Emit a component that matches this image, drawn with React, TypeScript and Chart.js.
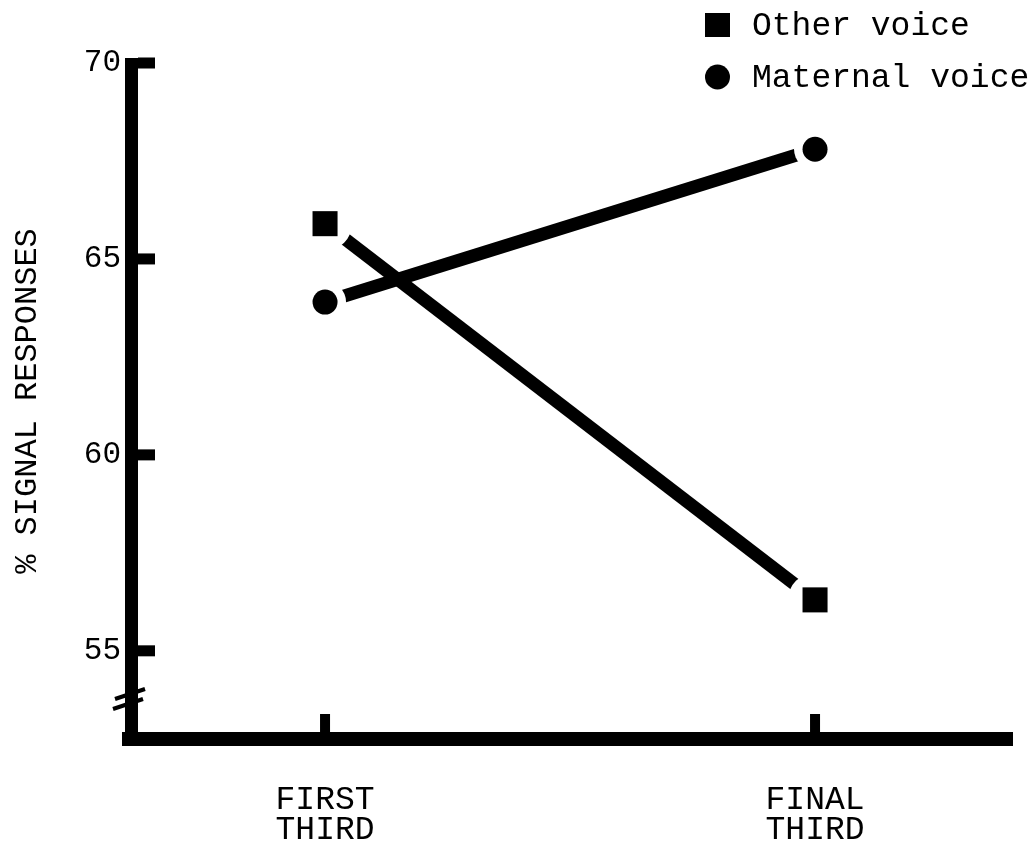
import React, { useEffect, useRef } from "react";
import { Chart, registerables } from "chart.js";

Chart.register(...registerables);

const periods = ["FIRST THIRD", "FINAL THIRD"];
const seriesNames = ["Other voice", "Maternal voice"];
const otherVoice = [65.9, 56.3];
const maternalVoice = [63.9, 67.8];
const yTickValues = [55, 60, 65, 70];
const yTitle = "% SIGNAL RESPONSES";

const FONT = "'Liberation Mono', 'DejaVu Sans Mono', monospace";

const toPoints = (vals: number[]) => vals.map((v, i) => ({ x: i + 1, y: v }));

const handAxes = {
  id: "handAxes",
  beforeDatasetsDraw(chart: any) {
    const { ctx, chartArea: ca, scales } = chart;
    const xs = scales.x;
    const ys = scales.y;
    const L = ca.left, B = ca.bottom, T = ca.top, R = ca.right;
    ctx.save();
    ctx.fillStyle = "#000";
    // y axis line
    ctx.fillRect(L - 6, T - 5, 13, B + 7 - (T - 5));
    // x axis line
    ctx.fillRect(L - 9, B - 7, R - (L - 9), 14);
    // y ticks (inward)
    yTickValues.forEach((v) => {
      const p = ys.getPixelForValue(v);
      ctx.fillRect(L + 7, p - 5.5, 17, 11);
    });
    // x ticks (inward)
    periods.forEach((_, i) => {
      const p = xs.getPixelForValue(i + 1);
      ctx.fillRect(p - 5, B - 25, 10, 18);
    });
    // axis break slashes
    ctx.strokeStyle = "#000";
    ctx.lineWidth = 4;
    ctx.lineCap = "butt";
    ctx.beginPath();
    ctx.moveTo(L - 16, B - 40);
    ctx.lineTo(L + 14, B - 50);
    ctx.stroke();
    ctx.beginPath();
    ctx.moveTo(L - 18, B - 30);
    ctx.lineTo(L + 12, B - 40);
    ctx.stroke();
    ctx.restore();
  },
  afterDraw(chart: any) {
    const { ctx } = chart;
    ctx.save();
    ctx.fillStyle = "#000";
    // legend row 1: square
    ctx.fillRect(705, 13, 25, 24);
    // legend row 2: circle
    ctx.beginPath();
    ctx.arc(717.5, 77, 12.5, 0, Math.PI * 2);
    ctx.fill();
    ctx.font = `33px ${FONT}`;
    ctx.textBaseline = "middle";
    ctx.textAlign = "left";
    ctx.fillText(seriesNames[0], 752, 26);
    ctx.fillText(seriesNames[1], 752, 78);
    ctx.restore();
  },
};

export default function App() {
  const ref = useRef<HTMLCanvasElement | null>(null);

  useEffect(() => {
    if (!ref.current) return;
    const chart = new Chart(ref.current, {
      type: "line",
      data: {
        datasets: [
          {
            label: seriesNames[0],
            data: toPoints(otherVoice),
            showLine: false,
            pointStyle: "rect",
            pointRadius: 17.7,
            pointBackgroundColor: "#000",
            pointBorderWidth: 0,
            order: 1,
          },
          {
            label: seriesNames[1],
            data: toPoints(maternalVoice),
            showLine: false,
            pointStyle: "circle",
            pointRadius: 12.5,
            pointBackgroundColor: "#000",
            pointBorderWidth: 0,
            order: 1,
          },
          {
            label: seriesNames[0] + " gap",
            data: toPoints(otherVoice),
            showLine: false,
            pointStyle: "circle",
            pointRadius: 27,
            pointBackgroundColor: "#fff",
            pointBorderWidth: 0,
            order: 2,
          },
          {
            label: seriesNames[1] + " gap",
            data: toPoints(maternalVoice),
            showLine: false,
            pointStyle: "circle",
            pointRadius: 21,
            pointBackgroundColor: "#fff",
            pointBorderWidth: 0,
            order: 2,
          },
          {
            label: seriesNames[0] + " line",
            data: toPoints(otherVoice),
            borderColor: "#000",
            borderWidth: 13,
            borderCapStyle: "butt",
            pointRadius: 0,
            order: 3,
          },
          {
            label: seriesNames[1] + " line",
            data: toPoints(maternalVoice),
            borderColor: "#000",
            borderWidth: 13,
            borderCapStyle: "butt",
            pointRadius: 0,
            order: 3,
          },
        ],
      },
      options: {
        animation: false,
        responsive: true,
        maintainAspectRatio: false,
        events: [],
        layout: { autoPadding: false, padding: { top: 63, right: 18, left: 0, bottom: 0 } },
        plugins: {
          legend: { display: false },
          tooltip: { enabled: false },
        },
        scales: {
          x: {
            type: "linear",
            min: 0.604,
            max: 2.404,
            grid: { display: false, drawTicks: false },
            border: { display: false },
            afterBuildTicks: (s: any) => {
              s.ticks = periods.map((_, i) => ({ value: i + 1 }));
            },
            afterFit: (s: any) => {
              s.height = 108;
              s.paddingLeft = 0;
              s.paddingRight = 0;
            },
            ticks: {
              color: "#000",
              padding: 46,
              maxRotation: 0,
              autoSkip: false,
              font: { family: FONT, size: 33, lineHeight: 30 / 33 },
              callback: (_v: any, i: number) => periods[i].split(" "),
            },
          },
          y: {
            type: "linear",
            min: 52.75,
            max: 70,
            grid: { display: false, drawTicks: false },
            border: { display: false },
            afterBuildTicks: (s: any) => {
              s.ticks = yTickValues.map((v) => ({ value: v }));
            },
            afterFit: (s: any) => {
              s.width = 131;
              s.paddingTop = 0;
              s.paddingBottom = 0;
            },
            ticks: {
              color: "#000",
              padding: 10,
              font: { family: FONT, size: 31 },
              callback: (v: any) => String(v),
            },
            title: {
              display: true,
              text: yTitle,
              color: "#000",
              padding: { top: 8, bottom: 0 },
              font: { family: FONT, size: 32 },
            },
          },
        },
      },
      plugins: [handAxes],
    } as any);
    return () => chart.destroy();
  }, []);

  return (
    <div style={{ position: "fixed", left: 0, top: 0, width: 1031, height: 847, background: "#fff" }}>
      <canvas ref={ref} />
    </div>
  );
}
